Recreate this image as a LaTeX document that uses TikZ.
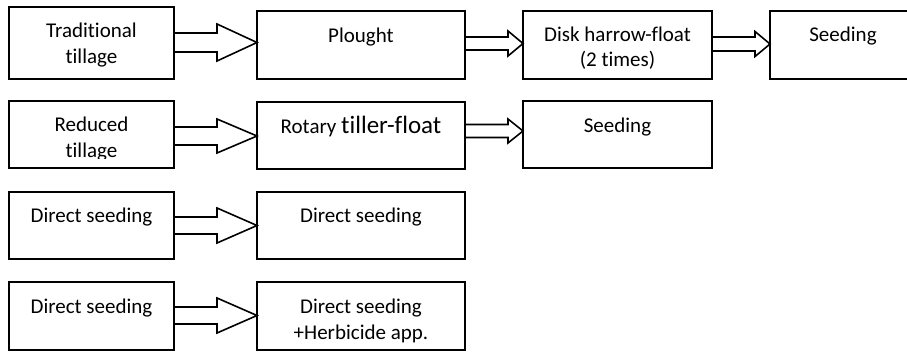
\documentclass[tikz,border=0pt]{standalone}
\usepackage{fontspec}
\setmainfont[Ligatures={NoCommon,NoContextual,NoRare}]{Carlito}
\usetikzlibrary{calc}

\tikzset{
  box/.style={draw, line width=1.6pt, rectangle, inner sep=0pt, outer sep=0pt, anchor=north west},
  lbl/.style={anchor=base, inner sep=0pt, font=\fontsize{21}{24}\selectfont},
  arrowline/.style={draw, line width=1.6pt, line join=miter}
}

% hollow block arrow: from, to, centre y, shaft half-width, head half-width, head length
\newcommand\hollowarrow[6]{%
  \coordinate (#1-#2-s) at (#1.east |- 0,#3);
  \coordinate (#1-#2-t) at (#2.west |- 0,#3);
  \draw[arrowline] ($(#1-#2-s)+(0,-#4)$) -- ($(#1-#2-t)+(-#6,-#4)$)
    -- ($(#1-#2-t)+(-#6,-#5)$) -- (#1-#2-t) -- ($(#1-#2-t)+(-#6,#5)$)
    -- ($(#1-#2-t)+(-#6,#4)$) -- ($(#1-#2-s)+(0,#4)$);
}

\begin{document}
\begin{tikzpicture}[x=1pt, y=-1pt]
\useasboundingbox (0,0) rectangle (907,351);

% boxes
\node[box, minimum width=165pt, minimum height=72pt] (A) at (9,7) {};
\node[box, minimum width=208pt, minimum height=68pt] (P) at (257,11) {};
\node[box, minimum width=189pt, minimum height=68pt] (D) at (523,11) {};
\node[box, minimum width=146pt, minimum height=68pt] (S) at (770,11) {};

\node[box, minimum width=165pt, minimum height=67pt] (B) at (9,101) {};
\node[box, minimum width=208pt, minimum height=67pt] (R) at (257,102) {};
\node[box, minimum width=189pt, minimum height=67pt] (S2) at (523,101) {};

\node[box, minimum width=165pt, minimum height=67pt] (C) at (9,192) {};
\node[box, minimum width=208pt, minimum height=67pt] (D3) at (257,192) {};

\node[box, minimum width=165pt, minimum height=68pt] (E) at (9,282) {};
\node[box, minimum width=208pt, minimum height=68pt] (F) at (257,282) {};

% labels
\node[lbl] (A1) at (91.5,37) {Traditional};
\node[lbl] (A2) at (91.5,63) {tillage};
\node[lbl] (P1) at (361,42) {Plought};
\node[lbl] (D1) at (617.5,41) {Disk harrow-float};
\node[lbl] (D2) at (617.5,66) {(2 times)};
\node[lbl] (S1) at (843,41) {Seeding};

\begin{scope}
  \clip (10,102) rectangle (173,158);
  \node[lbl] (B1) at (91.5,131) {Reduced};
  \node[lbl] (B2) at (91.5,157) {tillage};
\end{scope}
\node[lbl] (R1) at (361,133) {Rotary {\fontsize{25}{28}\selectfont tiller-float}};
\node[lbl] (S21) at (617.5,132) {Seeding};

\node[lbl] (C1) at (91.5,222) {Direct seeding};
\node[lbl] (D31) at (361,222) {Direct seeding};

\node[lbl] (E1) at (91.5,313) {Direct seeding};
\begin{scope}
  \clip (258,283) rectangle (464,348);
  \node[lbl] (F1) at (361,313) {Direct seeding};
  \node[lbl] (F2) at (361,339) {+Herbicide app.};
\end{scope}

% arrows
\hollowarrow{A}{P}{42.5}{9.5}{18.5}{40}
\hollowarrow{P}{D}{43.5}{6.5}{12.5}{15}
\hollowarrow{D}{S}{44}{7}{12.5}{15}
\hollowarrow{B}{R}{136}{9}{17}{40}
\hollowarrow{R}{S2}{131}{6.5}{12}{15}
\hollowarrow{C}{D3}{225.5}{8.5}{17.5}{40}
\hollowarrow{E}{F}{315.5}{8.5}{17.5}{40}
\end{tikzpicture}
\end{document}
